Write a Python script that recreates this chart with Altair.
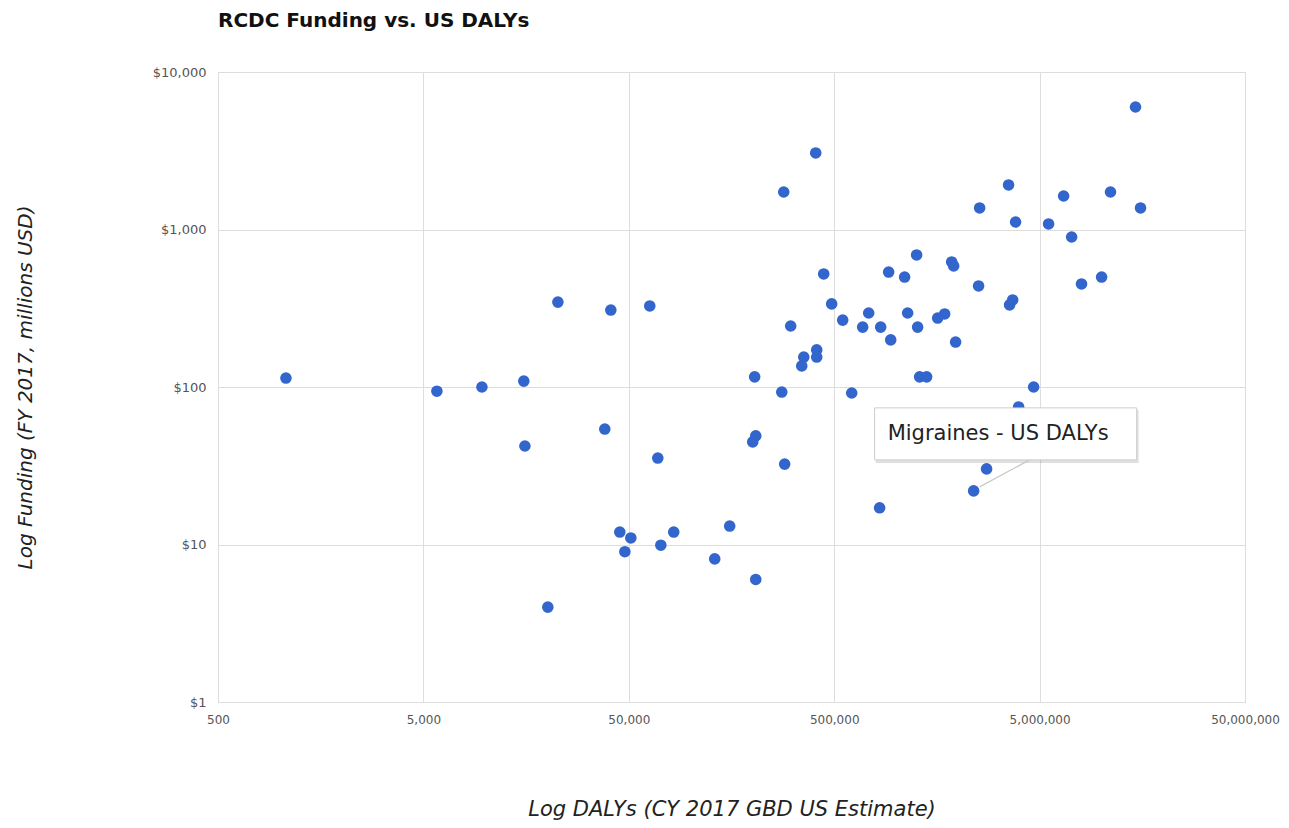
import altair as alt
import pandas as pd

# US DALYs (CY 2017 GBD estimate) for each condition
dalys = [
    1071, 5816, 9635, 15410, 15600, 22580, 40870, 38200, 63250, 20170,
    45200, 51150, 47850, 71600, 82750, 154950, 131000, 207500, 69200, 277800,
    608500, 207500, 200600, 287000, 832000, 2760000, 2387000, 3953000, 4677000, 1259700,
    1866000, 1908000, 920600, 1101000, 444500, 2523000, 3572000, 3697000, 486000, 736000,
    1139000, 1595000, 1725000, 550000, 307000, 688000, 842000, 1274000, 942000, 1950000,
    411000, 411000, 355500, 347500, 205000, 1303000, 1409000, 406500, 284000, 3531000,
    2553000, 3820000, 14655000, 6545000, 11070000, 15500000, 5530000, 7160000, 8000000, 10020000,
]

# RCDC funding (FY 2017, millions USD)
funding = [
    114, 94, 100, 109, 42.2, 346, 308, 54.1, 327, 4.0,
    12.0, 11.0, 9.0, 9.9, 12.0, 13.1, 8.1, 6.0, 35.4, 92.9,
    91.6, 48.9, 44.8, 32.4, 17.1, 30.2, 21.9, 74.7, 100, 689,
    622, 587, 537, 499, 522, 438, 332, 357, 337, 295,
    295, 274, 291, 266, 244, 240, 240, 240, 199, 193,
    172, 155, 155, 136, 116, 116, 116, 3062, 1730, 1918,
    1370, 1116, 5996, 1632, 1730, 1370, 1084, 896, 451, 499,
]

# hover label shown in the reference (attached to the Migraines point)
labels = [""] * len(dalys)
labels[26] = "Migraines - US DALYs"

x_ticks = [500, 5000, 50000, 500000, 5000000, 50000000]
y_ticks = [1, 10, 100, 1000, 10000]

df = pd.DataFrame({"dalys": dalys, "funding": funding, "label": labels})

FONT = "DejaVu Sans"

x_enc = alt.X(
    "dalys:Q",
    scale=alt.Scale(type="log", domain=[500, 50000000], nice=False),
    axis=alt.Axis(
        values=x_ticks, format=",", grid=True, ticks=False, tickSize=0, domain=False,
        labelPadding=12, labelFont=FONT, labelFontSize=12, labelColor="#555",
        labelFlush=False, labelOverlap=False,
        title="Log DALYs (CY 2017 GBD US Estimate)", titleFont=FONT, titleFontSize=21,
        titleFontStyle="italic", titleFontWeight="normal", titleColor="#222",
        titleY=107, titleBaseline="middle",
    ),
)
y_enc = alt.Y(
    "funding:Q",
    scale=alt.Scale(type="log", domain=[1, 10000], nice=False),
    axis=alt.Axis(
        values=y_ticks, labelExpr="'$' + format(datum.value, ',')", grid=True,
        ticks=False, tickSize=0, domain=False, labelPadding=12, labelFont=FONT,
        labelFontSize=13, labelColor="#555", labelFlush=False, labelOverlap=False,
        title="Log Funding (FY 2017, millions USD)", titleFont=FONT, titleFontSize=20,
        titleFontStyle="italic", titleFontWeight="normal", titleColor="#222",
        titleX=-193, titleY=315, titleAngle=-90, titleBaseline="middle", titleAlign="center",
    ),
)

points = alt.Chart(df).mark_circle(size=135, color="#3366cc", opacity=1).encode(
    x=x_enc, y=y_enc
)

tip = alt.Chart(df).transform_filter("datum.label != ''")

tip_shadow = tip.mark_rect(
    fill="#000", opacity=0.12, xOffset=-98, x2Offset=165, yOffset=-81, y2Offset=-28
).encode(x="dalys:Q", x2="dalys:Q", y="funding:Q", y2="funding:Q")

tip_box = tip.mark_rect(
    fill="white", stroke="#cccccc", strokeWidth=1,
    xOffset=-99, x2Offset=163, yOffset=-83, y2Offset=-31
).encode(x="dalys:Q", x2="dalys:Q", y="funding:Q", y2="funding:Q")

tip_line = tip.mark_rule(
    color="#c8c8c8", strokeWidth=1.2, xOffset=6, x2Offset=56, yOffset=-4, y2Offset=-31
).encode(x="dalys:Q", x2="dalys:Q", y="funding:Q", y2="funding:Q")

tip_text = tip.mark_text(
    align="left", baseline="middle", dx=-86, dy=-57, font=FONT, fontSize=21, color="#222"
).encode(x="dalys:Q", y="funding:Q", text="label:N")

chart = (
    alt.layer(points, tip_shadow, tip_line, tip_box, tip_text)
    .properties(
        width=1027,
        height=630,
        title=alt.TitleParams(
            "RCDC Funding vs. US DALYs", anchor="start", frame="group", font=FONT,
            fontSize=20, fontWeight="bold", color="#111", offset=15, baseline="bottom",
        ),
        autosize=alt.AutoSizeParams(type="none"),
        padding={"left": 210, "top": 64, "right": 36, "bottom": 118},
    )
    .configure_view(stroke=None)
    .configure_axis(gridColor="#cccccc", gridWidth=1)
    .configure(background="white")
)

chart.save("out.html", embed_options={"renderer": "svg", "actions": False})
